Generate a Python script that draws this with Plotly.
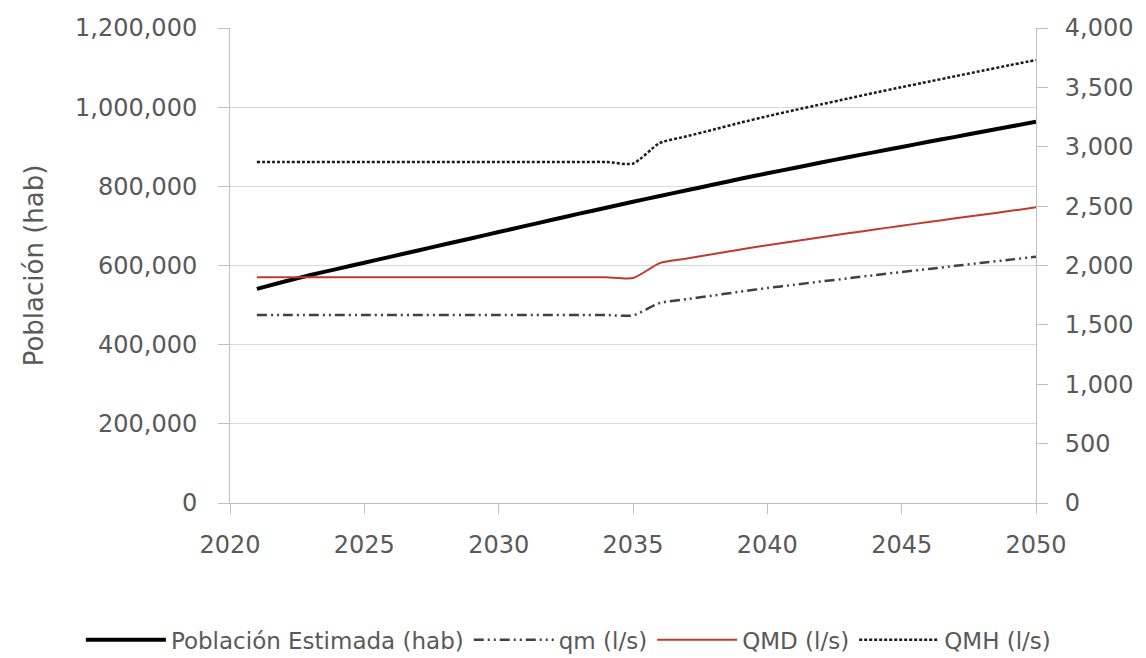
import plotly.graph_objects as go

years = list(range(2021, 2051))

poblacion = [541000, 559000, 576000, 591500, 607000, 622500, 638000, 653500, 669000, 684500,
             700000, 715500, 731000, 746000, 761000, 775500, 790000, 804500, 819000, 833000,
             846500, 860000, 873500, 886500, 899500, 912500, 925000, 938000, 950500, 963000]

qm = [1583, 1583, 1583, 1583, 1583, 1583, 1583, 1583, 1583, 1583,
      1583, 1583, 1583, 1583, 1580, 1684, 1716, 1748, 1780, 1810,
      1838, 1865, 1892, 1919, 1945, 1971, 1997, 2023, 2048, 2074]

qmd = [1901, 1901, 1901, 1901, 1901, 1901, 1901, 1901, 1901, 1901,
       1901, 1901, 1901, 1901, 1894, 2020, 2058, 2097, 2135, 2171,
       2205, 2238, 2271, 2303, 2335, 2366, 2397, 2428, 2458, 2490]

qmh = [2872, 2872, 2872, 2872, 2872, 2872, 2872, 2872, 2872, 2872,
       2872, 2872, 2872, 2872, 2858, 3032, 3088, 3145, 3203, 3257,
       3308, 3357, 3406, 3455, 3502, 3548, 3594, 3640, 3686, 3730]

names = ["Población Estimada (hab)", "qm (l/s)", "QMD (l/s)", "QMH (l/s)"]

left_ticks = [0, 200000, 400000, 600000, 800000, 1000000, 1200000]
right_ticks = [0, 500, 1000, 1500, 2000, 2500, 3000, 3500, 4000]
x_ticks = [2020, 2025, 2030, 2035, 2040, 2045, 2050]

TICK_FONT = dict(family="DejaVu Sans", size=24, color="#595959")
AXIS_GRAY = "#bfbfbf"

fig = go.Figure()
fig.add_trace(go.Scatter(x=years, y=poblacion, name=names[0], mode="lines",
                         line=dict(color="#000000", width=4, shape="spline", smoothing=0.6),
                         yaxis="y"))
fig.add_trace(go.Scatter(x=years, y=qm, name=names[1], mode="lines",
                         line=dict(color="#404040", width=2.5, shape="spline", smoothing=0.6,
                                   dash="10px,4px,2px,4px,2px,4px"),
                         yaxis="y2"))
fig.add_trace(go.Scatter(x=years, y=qmd, name=names[2], mode="lines",
                         line=dict(color="#c0392b", width=2, shape="spline", smoothing=0.6),
                         yaxis="y2"))
fig.add_trace(go.Scatter(x=years, y=qmh, name=names[3], mode="lines",
                         line=dict(color="#1a1a1a", width=2.5, shape="spline", smoothing=0.6,
                                   dash="3px,2px"),
                         yaxis="y2"))

fig.update_layout(
    width=1138, height=650,
    margin=dict(l=222, r=110, t=20, b=155, autoexpand=False),
    paper_bgcolor="white", plot_bgcolor="white",
    showlegend=True,
    legend=dict(orientation="h", x=-0.185, y=-0.288, xanchor="left", yanchor="middle",
                font=dict(family="DejaVu Sans", size=23, color="#595959"),
                itemwidth=80, traceorder="normal", bgcolor="rgba(0,0,0,0)"),
    xaxis=dict(range=[2020, 2050], tickvals=x_ticks, ticktext=[str(v) for v in x_ticks],
               showgrid=False, zeroline=False, showline=True, linecolor=AXIS_GRAY, linewidth=1,
               ticks="outside", ticklen=10, tickcolor=AXIS_GRAY, tickfont=TICK_FONT,
               ticklabelstandoff=10, automargin=False),
    yaxis=dict(range=[0, 1200000], tickvals=left_ticks,
               ticktext=[f"{v:,}" for v in left_ticks],
               showgrid=True, gridcolor="#d9d9d9", gridwidth=1, zeroline=False,
               showline=True, linecolor=AXIS_GRAY, linewidth=1,
               ticks="outside", ticklen=11, tickcolor=AXIS_GRAY, tickfont=TICK_FONT,
               ticklabelstandoff=16, automargin=False,
               title=dict(text="Población (hab)", font=dict(family="DejaVu Sans", size=26, color="#595959"),
                          standoff=23)),
    yaxis2=dict(range=[0, 4000], tickvals=right_ticks,
                ticktext=[f"{v:,}" for v in right_ticks],
                overlaying="y", side="right", showgrid=False, zeroline=False,
                showline=True, linecolor=AXIS_GRAY, linewidth=1,
                ticks="outside", ticklen=11, tickcolor=AXIS_GRAY, tickfont=TICK_FONT,
                ticklabelstandoff=12, automargin=False),
)

fig.write_html("out.html")
